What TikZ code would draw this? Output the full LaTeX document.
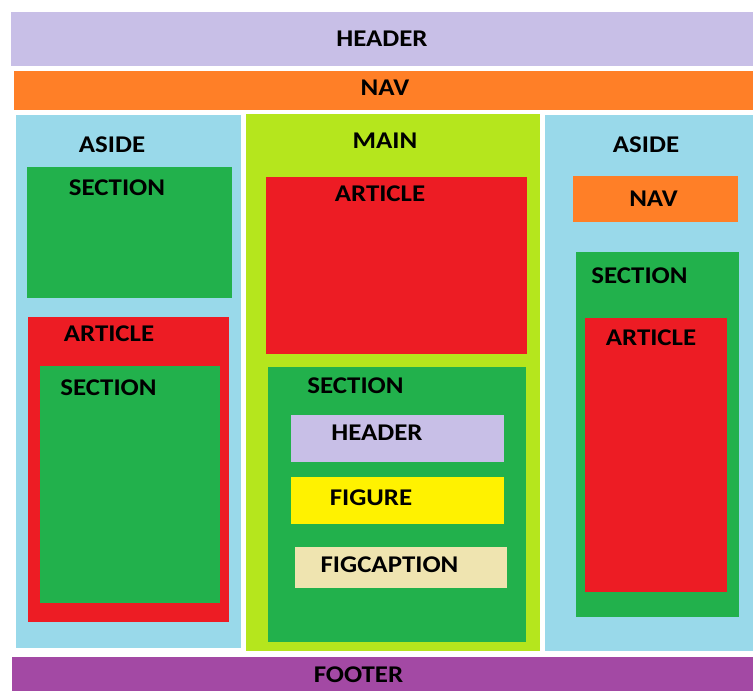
\documentclass[tikz,border=0pt]{standalone}
\usepackage{fontspec}
\setmainfont{Carlito}[FakeStretch=1.12]
\definecolor{lav}{HTML}{C8BFE7}
\definecolor{org}{HTML}{FF7F27}
\definecolor{sky}{HTML}{99D9EA}
\definecolor{grn}{HTML}{22B14C}
\definecolor{red1}{HTML}{ED1C24}
\definecolor{lime}{HTML}{B5E61D}
\definecolor{yel}{HTML}{FFF200}
\definecolor{tan1}{HTML}{EFE4B0}
\definecolor{pur}{HTML}{A349A4}
\begin{document}
\begin{tikzpicture}[x=1pt,y=-1pt,
  lbl/.style={font=\fontsize{24}{24}\selectfont\bfseries, text=black, inner sep=0pt, anchor=center}]
\useasboundingbox (0,0) rectangle (753,691);
\fill[white] (0,0) rectangle (753,691);
% outer blocks
\fill[lav] (11,12) rectangle (753,66);
\fill[org] (14,71) rectangle (753,110);
\fill[sky] (16,115) rectangle (241,648);
\fill[lime] (246,114) rectangle (540,651);
\fill[sky] (545,115) rectangle (753,651);
\fill[pur] (12,657) rectangle (753,691);
% left aside
\fill[grn] (27,167) rectangle (232,298);
\fill[red1] (28,317) rectangle (229,622);
\fill[grn] (40,366) rectangle (220,603);
% main
\fill[red1] (266,177) rectangle (527,354);
\fill[grn] (268,367) rectangle (526,642);
\fill[lav] (291,415) rectangle (504,462);
\fill[yel] (291,477) rectangle (504,524);
\fill[tan1] (295,547) rectangle (507,588);
% right aside
\fill[org] (573,176) rectangle (738,222);
\fill[grn] (576,252) rectangle (739,617);
\fill[red1] (585,318) rectangle (727,592);
% labels
\node[lbl] (tHeader) at (382,38.5) {HEADER};
\node[lbl] (tNav) at (385,88) {NAV};
\node[lbl] (tAsideL) at (112,144.5) {ASIDE};
\node[lbl] (tSecL) at (117,188) {SECTION};
\node[lbl] (tArtL) at (109,334) {ARTICLE};
\node[lbl] (tSecL2) at (108.5,388) {SECTION};
\node[lbl] (tMain) at (385,140.5) {MAIN};
\node[lbl] (tArtM) at (380,193.5) {ARTICLE};
\node[lbl] (tSecM) at (355.5,385.5) {SECTION};
\node[lbl] (tHeadM) at (377,432.5) {HEADER};
\node[lbl] (tFig) at (371,497.5) {FIGURE};
\node[lbl] (tFigC) at (389.5,564.5) {FIGCAPTION};
\node[lbl] (tAsideR) at (646,145) {ASIDE};
\node[lbl] (tNavR) at (653.5,198.5) {NAV};
\node[lbl] (tSecR) at (639.5,275.5) {SECTION};
\node[lbl] (tArtR) at (651,337.5) {ARTICLE};
\node[lbl] (tFoot) at (358.5,674.5) {FOOTER};
\end{tikzpicture}
\end{document}
